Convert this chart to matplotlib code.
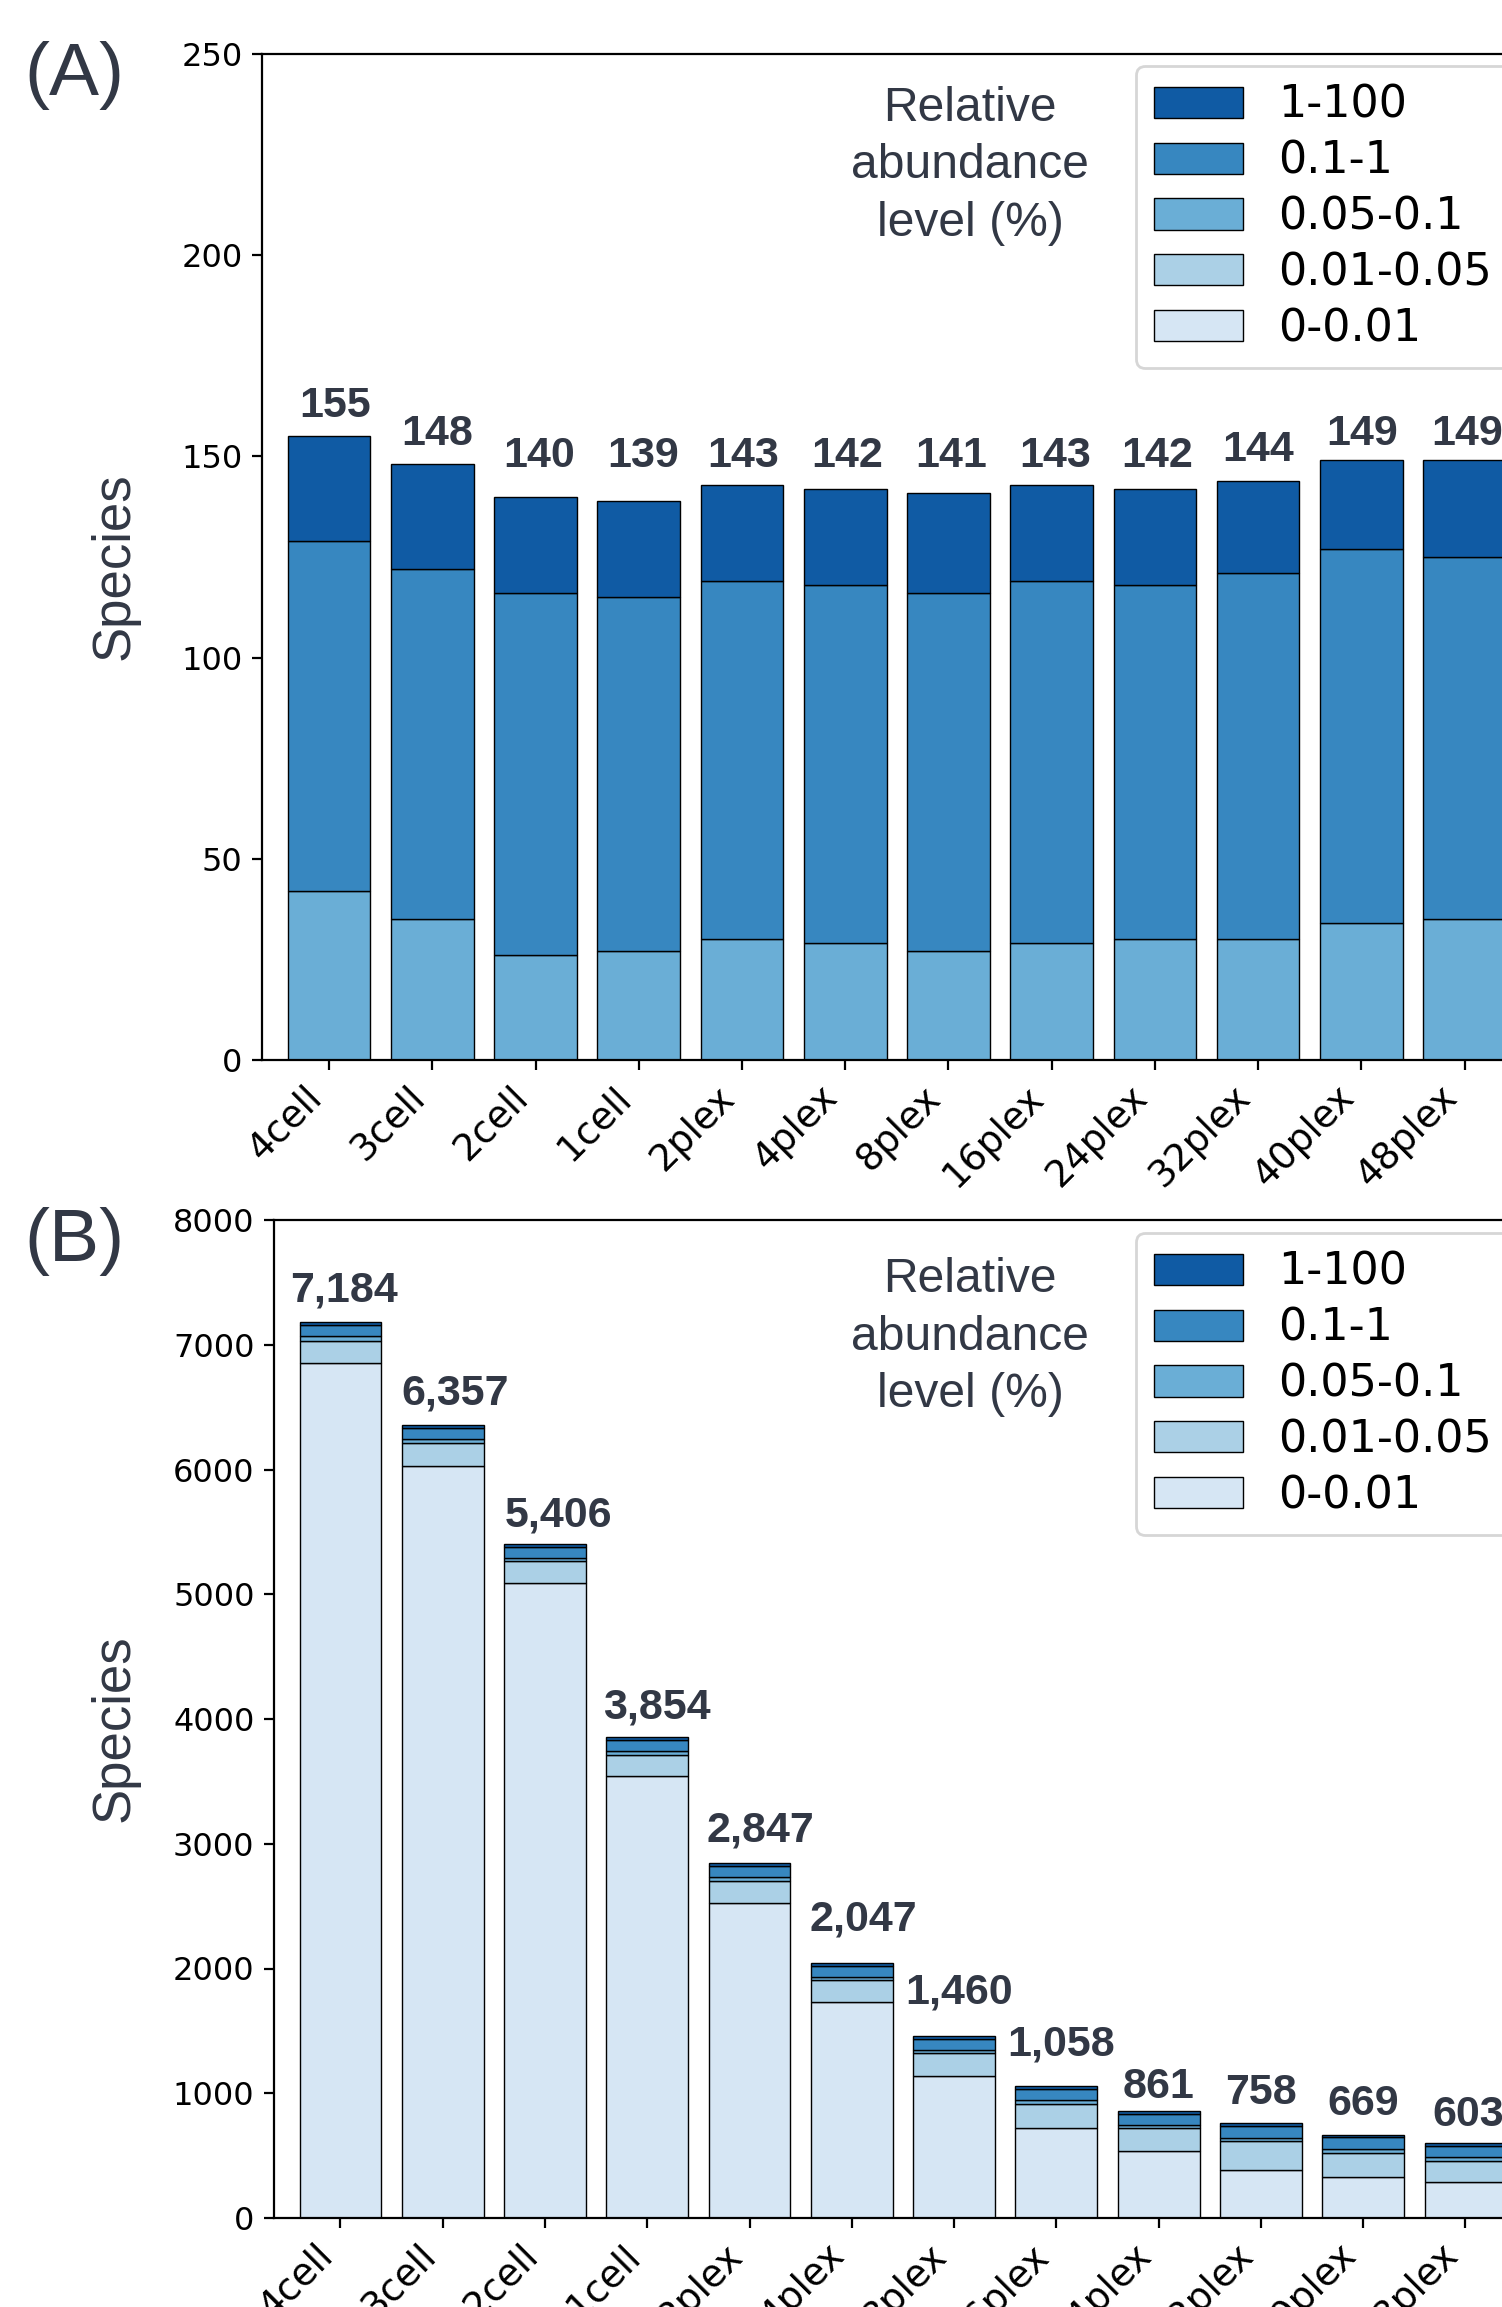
import numpy as np
import matplotlib.pyplot as plt

W, H, DPI = 1502, 2307, 200
DARK = '#323845'

categories = ['4cell', '3cell', '2cell', '1cell', '2plex', '4plex', '8plex',
              '16plex', '24plex', '32plex', '40plex', '48plex']
levels = ['0-0.01', '0.01-0.05', '0.05-0.1', '0.1-1', '1-100']

# species per abundance level, panel A (filtered)
a_0_001 = [0] * 12
a_001_005 = [0] * 12
a_005_01 = [42, 35, 26, 27, 30, 29, 27, 29, 30, 30, 34, 35]
a_01_1 = [87, 87, 90, 88, 89, 89, 89, 90, 88, 91, 93, 90]
a_1_100 = [26, 26, 24, 24, 24, 24, 25, 24, 24, 23, 22, 24]

# panel B (all species)
b_0_001 = [6850, 6031, 5089, 3547, 2528, 1728, 1141, 723, 541, 381, 331, 288]
b_001_005 = [179, 178, 177, 168, 176, 177, 178, 192, 178, 233, 189, 166]
b_005_01 = a_005_01
b_01_1 = a_01_1
b_1_100 = a_1_100

colors = plt.cm.Blues(np.linspace(0, 1, 7)[1:-1])

fig = plt.figure(figsize=(W / DPI, H / DPI), dpi=DPI)


def panel(rect, series, ylim, yticks, letter, fmt, text_y, leg_top, dx, dy):
    ax = fig.add_axes(rect)
    x = np.arange(len(categories))
    bottom = np.zeros(len(categories))
    for vals, lab, c in zip(series, levels, colors):
        vals = np.array(vals, dtype=float)
        ax.bar(x, vals, 0.8, bottom=bottom, color=c, edgecolor='black',
               linewidth=0.5, label=lab)
        bottom += vals
    # value labels, nudged apart like in the original
    for xi, tot, nx, ny in zip(x, bottom, dx, dy):
        ax.annotate(fmt.format(int(tot)), (xi, tot), xytext=(nx, 30 + ny),
                    textcoords='offset pixels', ha='center', va='center',
                    fontsize=15.5, fontweight='bold', color=DARK,
                    family='Liberation Sans')
    ax.set_xlim(-0.65, 13)
    ax.set_ylim(*ylim)
    ax.set_yticks(yticks)
    ax.set_xticks(x, categories, rotation=45, ha='right')
    ax.tick_params(axis='y', labelsize=11.5)
    ax.tick_params(axis='x', labelsize=13.5)

    h, l = ax.get_legend_handles_labels()
    ax.legend(h[::-1], l[::-1], loc='upper left',
              bbox_to_anchor=(1136 / W, 1 - leg_top / H),
              bbox_transform=fig.transFigure, borderaxespad=0,
              fontsize=16, labelspacing=0.29)

    fig.text(970 / W, 1 - text_y / H, 'Relative\nabundance\nlevel (%)',
             ha='center', va='center', multialignment='center',
             fontsize=17.3, linespacing=1.35, color=DARK,
             family='Liberation Sans')
    axc = (1 - rect[1] - rect[3] / 2)
    fig.text(115 / W, 1 - axc - 9 / H, 'Species', rotation=90, ha='center',
             va='center', fontsize=19, color=DARK, family='Liberation Sans')
    fig.text(74 / W, rect[1] + rect[3] - 22 / H, letter, ha='center',
             va='center', fontsize=27, color=DARK, family='Liberation Sans')
    return ax


panel([262 / W, 1 - 1060 / H, 1409 / W, 1006 / H],
      [a_0_001, a_001_005, a_005_01, a_01_1, a_1_100],
      (0, 250), np.arange(0, 251, 50), '(A)', '{}', 166, 66,
      [6, 5, 4, 4, 1, 2, 3, 3, 2, 0, 1, 3],
      [0, 0, 11, 15, -1, 3, 7, -1, 3, 1, -4, -4])

panel([274 / W, 1 - 2218 / H, 1396 / W, 998 / H],
      [b_0_001, b_001_005, b_005_01, b_01_1, b_1_100],
      (0, 8000), np.arange(0, 8001, 1000), '(B)', '{:,}', 1337, 1233,
      [4, 12, 13, 10, 11, 11, 5, 5, 0, 0, 0, 3],
      [1, 1, -2, 0, 2, 13, 13, 12, -6, 0, 1, -2])

fig.savefig('out.png', dpi=DPI)
